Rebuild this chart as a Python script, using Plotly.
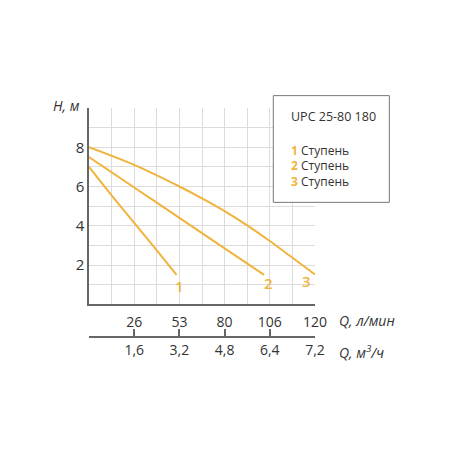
import plotly.graph_objects as go

# Pump curves UPC 25-80 180, head H (m) vs flow Q (m3/h on a 0.8 per column grid)
q1 = [0, 0.8, 1.6, 2.4, 3.1]
h1 = [7.0, 5.55, 4.15, 2.75, 1.5]
q2 = [0, 1.6, 3.2, 4.8, 6.2]
h2 = [7.5, 5.95, 4.4, 2.85, 1.5]
q3 = [0, 1.6, 3.2, 4.0, 4.8, 5.6, 6.4, 7.2, 8.0]
h3 = [8.0, 7.1, 6.0, 5.4, 4.75, 4.02, 3.22, 2.37, 1.52]

stages = ["1", "2", "3"]
stage_word = "Ступень"
model = "UPC 25-80 180"
label_x = [3.19, 6.35, 7.7]
label_y = [0.93, 1.07, 1.18]

# grid / tick labels
q_grid = [0.8, 1.6, 2.4, 3.2, 4.0, 4.8, 5.6, 6.4, 7.2, 8.0]
q_lmin_text = ["", "26", "", "53", "", "80", "", "106", "", "120"]
q_m3h_ticks = [0, 1.6, 3.2, 4.8, 6.4, 8.0]
q_m3h_text = ["", "1,6", "3,2", "4,8", "6,4", "7,2"]
h_grid = [1, 2, 3, 4, 5, 6, 7, 8, 9, 10]
h_text = ["", "2", "", "4", "", "6", "", "8", "", ""]

orange = "#F0B43C"
axis_col = "#666666"
grid_col = "#DCDCDC"
text_col = "#333333"
font = "Open Sans"

fig = go.Figure()
for q, h in [(q1, h1), (q2, h2), (q3, h3)]:
    fig.add_trace(go.Scatter(x=q, y=h, mode="lines",
                             line=dict(color=orange, width=2, shape="spline", smoothing=0.8),
                             showlegend=False, hoverinfo="skip"))
# carrier for the second (m3/h) axis
fig.add_trace(go.Scatter(x=q_m3h_ticks, y=[None] * len(q_m3h_ticks), xaxis="x2", mode="lines",
                         showlegend=False, hoverinfo="skip"))

for s, x, y in zip(stages, label_x, label_y):
    fig.add_annotation(x=x, y=y, text=s, showarrow=False,
                       font=dict(family=font, size=15, color=orange, weight=600))

fig.update_layout(
    width=450, height=450,
    margin=dict(l=81, r=143, t=100, b=121),
    plot_bgcolor="white", paper_bgcolor="white",
    font=dict(family=font, color=text_col, size=14),
    xaxis=dict(range=[0, 8], tickvals=q_grid, ticktext=q_lmin_text, showgrid=True, gridcolor=grid_col,
               showline=True, linecolor=axis_col, linewidth=1.5, ticks="", zeroline=False,
               tickfont=dict(size=14), ticklabelstandoff=4),
    xaxis2=dict(range=[0, 8], overlaying="x", anchor="free", position=0, side="bottom",
                tickvals=q_m3h_ticks, ticktext=q_m3h_text, showgrid=False, zeroline=False,
                showline=True, linecolor=axis_col, linewidth=1.5, ticks="inside", ticklen=7,
                tickcolor=axis_col, tickwidth=1.5, tickfont=dict(size=14)),
    yaxis=dict(range=[0, 10], domain=[0.143, 1], tickvals=h_grid, ticktext=h_text, showgrid=True,
               gridcolor=grid_col, showline=True, linecolor=axis_col, linewidth=1.5, ticks="",
               zeroline=False, tickfont=dict(size=15)),
)

# axis titles
fig.add_annotation(xref="paper", yref="paper", x=-0.031, y=1.013, xanchor="right", yanchor="middle",
                   text="<i>H, м</i>", showarrow=False, font=dict(size=14))
fig.add_annotation(xref="paper", yref="paper", x=1.096, y=0.074, xanchor="left", yanchor="middle",
                   text="<i>Q, л/мин</i>", showarrow=False, font=dict(size=14))
fig.add_annotation(xref="paper", yref="paper", x=1.096, y=-0.066, xanchor="left", yanchor="middle",
                   text="<i>Q, м<sup>3</sup>/ч</i>", showarrow=False, font=dict(size=14))

# legend box
fig.add_shape(type="rect", xref="paper", yref="paper", x0=0.8155, x1=1.329, y0=0.588, y1=1.054,
              line=dict(color="#777777", width=1), fillcolor="white", layer="above")
fig.add_annotation(xref="paper", yref="paper", x=0.885, y=0.965, xanchor="left", yanchor="middle",
                   text=model, showarrow=False, font=dict(size=12.5))
for s, y in zip(stages, [0.8135, 0.747, 0.678]):
    fig.add_annotation(xref="paper", yref="paper", x=0.885, y=y, xanchor="left", yanchor="middle",
                       text=f"<span style='color:{orange}'><b>{s}</b></span> {stage_word}", showarrow=False,
                       font=dict(size=12))

fig.write_html("out.html")
